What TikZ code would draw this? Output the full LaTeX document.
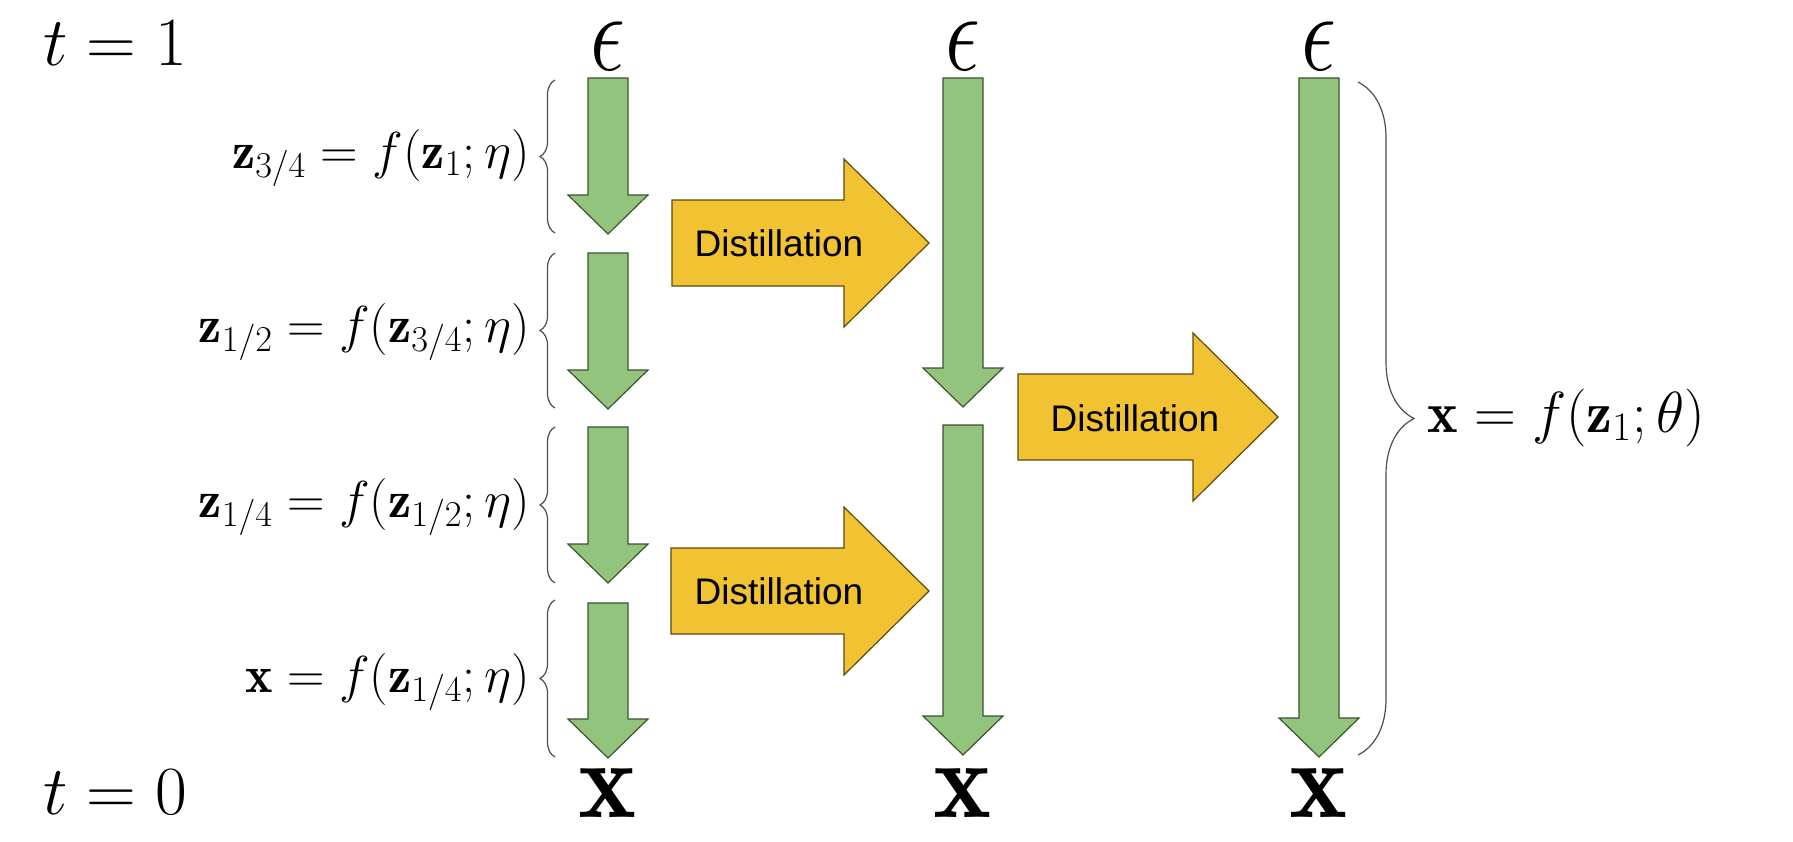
\documentclass[tikz,border=0pt]{standalone}
\usepackage{fix-cm}
\usepackage{graphicx}
\usepackage{fontspec}
\newfontfamily\slidefont{Liberation Sans}
\usetikzlibrary{decorations.pathreplacing}
\definecolor{stepgreen}{HTML}{93C47D}
\definecolor{stepedge}{HTML}{3A5530}
\definecolor{distyellow}{HTML}{F1C232}
\definecolor{distedge}{HTML}{5C4A12}
\definecolor{bracegray}{HTML}{4D4D4D}
\tikzset{
  green arrow/.style={fill=stepgreen, draw=stepedge, line width=0.6pt},
  yellow arrow/.style={fill=distyellow, draw=distedge, line width=0.6pt},
  left brace/.style={draw=bracegray, line width=0.6pt, decorate, decoration={brace, amplitude=7.5pt}},
  right brace/.style={draw=bracegray, line width=0.6pt, decorate, decoration={brace, amplitude=28pt}},
  disttext/.style={font=\slidefont\fontsize{18.5}{22}\selectfont},
  steplabel/.style={anchor=base east, inner sep=0pt, font=\fontsize{26}{31}\selectfont},
  timelabel/.style={anchor=base west, inner sep=0pt, font=\fontsize{34.5}{41}\selectfont},
  noise/.style={anchor=base, inner sep=0pt, font=\fontsize{44}{50}\selectfont},
  sample/.style={anchor=base, inner sep=0pt, font=\fontsize{55}{60}\selectfont}
}
\newcommand{\greenstep}[3]{%
  \draw[green arrow] ({#1-20},-#2) -- ({#1+20},-#2) -- ({#1+20},{-(#3-39)}) -- ({#1+40},{-(#3-39)})
    -- (#1,-#3) -- ({#1-40},{-(#3-39)}) -- ({#1-20},{-(#3-39)}) -- cycle;}
\newcommand{\diststep}[4]{%
  \draw[yellow arrow] (#1,{-(#2-43)}) -- (#3,{-(#2-43)}) -- (#3,{-(#2-84)}) -- (#4,-#2)
    -- (#3,{-(#2+84)}) -- (#3,{-(#2+43)}) -- (#1,{-(#2+43)}) -- cycle;}
\begin{document}
\begin{tikzpicture}[x=0.5pt,y=0.5pt]
                \useasboundingbox (0,0) rectangle (1793,-841);
                \node[timelabel] (tone) at (43,-65) {$t=1$};
                \node[timelabel] (tzero) at (43,-814) {$t=0$};
                \node[noise] (eps1) at (608,-70) {\scalebox{1}[1.28]{$\epsilon$}};
                \node[noise] (eps2) at (963,-70) {\scalebox{1}[1.28]{$\epsilon$}};
                \node[noise] (eps3) at (1319,-70) {\scalebox{1}[1.28]{$\epsilon$}};
                \node[sample] (xout1) at (608,-817) {$\mathbf{x}$};
                \node[sample] (xout2) at (963,-817) {$\mathbf{x}$};
                \node[sample] (xout3) at (1319,-817) {$\mathbf{x}$};
                \greenstep{608}{78}{234}
                \greenstep{608}{253}{409}
                \greenstep{608}{427}{583}
                \greenstep{608}{603}{758}
                \greenstep{963}{78}{407}
                \greenstep{963}{425}{755}
                \greenstep{1319}{78}{757}
                \diststep{672}{243}{844}{929}
                \diststep{671}{591}{844}{929}
                \diststep{1018}{417}{1193}{1278}
                \node[disttext] (dist1) at (779,-243) {Distillation};
                \node[disttext] (dist2) at (779,-591) {Distillation};
                \node[disttext] (dist3) at (1135,-418) {Distillation};
                \draw[left brace] (555,-233) -- (555,-80);
                \draw[left brace] (555,-408) -- (555,-253);
                \draw[left brace] (555,-583) -- (555,-427);
                \draw[left brace] (555,-757) -- (555,-600);
                \node[steplabel] (step1) at (530,-168) {$\mathbf{z}_{3/4}=f(\mathbf{z}_1;\eta)$};
                \node[steplabel] (step2) at (530,-342) {$\mathbf{z}_{1/2}=f(\mathbf{z}_{3/4};\eta)$};
                \node[steplabel] (step3) at (530,-517) {$\mathbf{z}_{1/4}=f(\mathbf{z}_{1/2};\eta)$};
                \node[steplabel] (step4) at (530,-692) {$\mathbf{x}=f(\mathbf{z}_{1/4};\eta)$};
                \draw[right brace] (1358,-82) -- (1358,-755);
                \node[anchor=base west, inner sep=0pt, font=\fontsize{29}{35}\selectfont] (onestep) at (1427,-432) {$\mathbf{x}=f(\mathbf{z}_1;\theta)$};
\end{tikzpicture}
\end{document}
